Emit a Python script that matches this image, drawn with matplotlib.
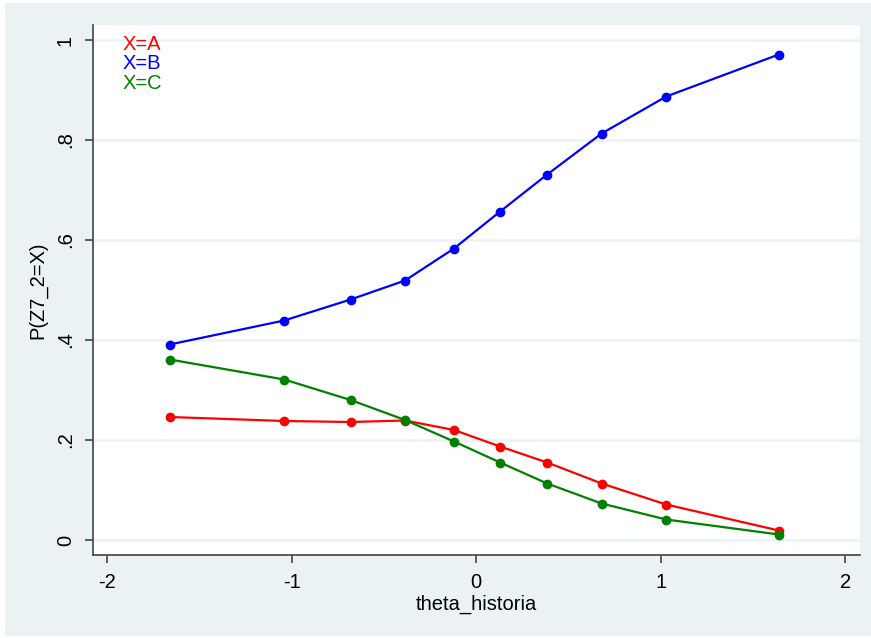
import matplotlib
matplotlib.use('Agg')
import matplotlib.pyplot as plt
from matplotlib.patches import Rectangle

plt.rcParams['font.family'] = ['Liberation Sans', 'DejaVu Sans']

# theta values and predicted probabilities per outcome
theta = [-1.66, -1.04, -0.68, -0.385, -0.12, 0.13, 0.385, 0.68, 1.03, 1.64]
p_a = [0.246, 0.238, 0.236, 0.239, 0.220, 0.187, 0.155, 0.113, 0.071, 0.019]
p_b = [0.391, 0.439, 0.481, 0.519, 0.583, 0.657, 0.731, 0.813, 0.887, 0.971]
p_c = [0.361, 0.321, 0.280, 0.240, 0.197, 0.155, 0.113, 0.073, 0.041, 0.011]
labels = ['X=A', 'X=B', 'X=C']
colors = ['#ff0000', '#0000ff', '#008000']
yticks = [0, 0.2, 0.4, 0.6, 0.8, 1]
yticklabels = ['0', '.2', '.4', '.6', '.8', '1']
xticks = [-2, -1, 0, 1, 2]

bg = '#eaf2f3'
fs = 14.5
fig = plt.figure(figsize=(8.71, 6.38), dpi=100, facecolor='white')
fig.patches.append(Rectangle((5 / 871, 2 / 638), 866 / 871, 633 / 638,
                             transform=fig.transFigure, facecolor=bg,
                             edgecolor='none', zorder=-10))

ax = fig.add_axes([93 / 871, 83 / 638, 767 / 871, 530 / 638])
ax.set_facecolor('white')

for ys, c in zip([p_a, p_b, p_c], colors):
    ax.plot(theta, ys, color=c, lw=1.6, marker='o', markersize=6, zorder=3)

ax.set_xlim(-2.076, 2.08)
ax.set_ylim(-0.03, 1.03)
ax.set_yticks(yticks)
ax.set_yticklabels(yticklabels, rotation=90, va='center')
ax.set_xticks(xticks)
ax.set_xticklabels([str(t) for t in xticks])
ax.tick_params(axis='both', labelsize=fs, length=6, width=1.2,
               color='#444444', labelcolor='black', direction='out')
ax.tick_params(axis='y', pad=7)
ax.tick_params(axis='x', pad=7)

ax.grid(axis='y', color=bg, lw=1.8, zorder=0)
ax.set_axisbelow(True)
for s in ['top', 'right']:
    ax.spines[s].set_visible(False)
for s in ['left', 'bottom']:
    ax.spines[s].set_color('#444444')
    ax.spines[s].set_linewidth(1.2)

ax.set_xlabel('theta_historia', fontsize=fs, labelpad=2)
ax.set_ylabel('P(Z7_2=X)', fontsize=fs, labelpad=6)

for i, (lab, c) in enumerate(zip(labels, colors)):
    ax.text(0.038, 0.963 - i * 0.0365, lab, color=c, fontsize=fs,
            transform=ax.transAxes, ha='left', va='center')

fig.savefig('out.png', dpi=100, facecolor=fig.get_facecolor())
